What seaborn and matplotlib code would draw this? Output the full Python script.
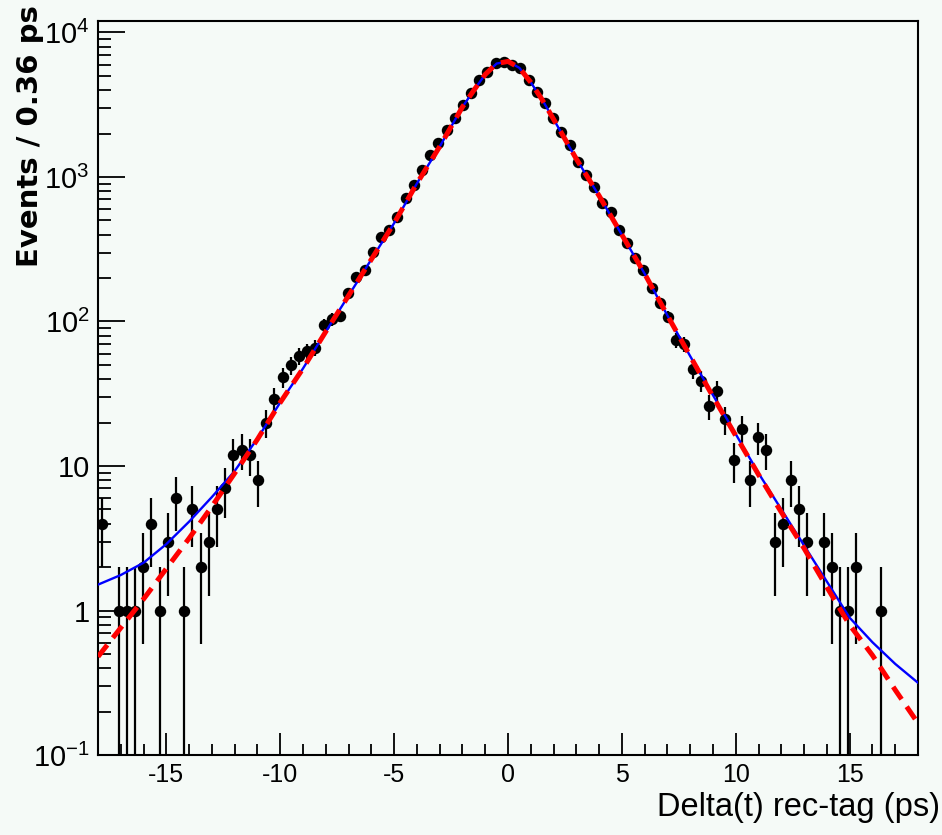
import numpy as np
import pandas as pd
import matplotlib
matplotlib.use("Agg")
import matplotlib.pyplot as plt
import seaborn as sns
from matplotlib.ticker import FixedLocator, MultipleLocator, NullFormatter, LogLocator

# ---------------- data ----------------
bin_width = 0.36
x_min, x_max = -18.0, 18.0

counts = [
    4, 0, 1, 1, 1, 2, 4, 1, 3, 6,
    1, 5, 2, 3, 5, 7, 12, 13, 12, 8,
    20, 29, 41, 50, 58, 62, 66, 95, 104, 110,
    157, 204, 227, 304, 386, 430, 531, 711, 881, 1117,
    1419, 1710, 2113, 2546, 3148, 3793, 4690, 5360, 6110, 6280,
    5960, 5650, 4690, 3890, 3240, 2550, 2055, 1663, 1276, 1033,
    857, 658, 576, 430, 347, 274, 227, 170, 134, 108,
    74, 70, 47, 39, 26, 33, 21, 11, 18, 8,
    16, 13, 3, 4, 8, 5, 3, 0, 3, 2,
    1, 1, 2, 0, 0, 1, 0, 0, 0, 0,
]

curve_x = [-18, -17, -16, -15, -14, -13, -12, -11, -10, -9, -8, -7, -6, -5, -4, -3,
           -2, -1.5, -1, -0.5, 0, 0.5, 1, 1.5, 2,
           3, 4, 5, 6, 7, 8, 9, 10, 11, 12, 13, 14, 15, 16, 17, 18]

blue_fit = [1.51, 1.76, 2.14, 2.88, 4.12, 6.10, 9.23, 15.5, 27.5, 47.3, 85.1, 151, 269, 479, 902, 1622,
            3055, 3981, 5129, 6095, 6310, 5689, 4519, 3428, 2512,
            1334, 741, 398, 214, 110, 57.5, 30.9, 16.6, 8.91, 5.01, 2.82, 1.585, 0.891, 0.603, 0.427, 0.316]

red_fit = [0.479, 0.759, 1.20, 1.95, 3.16, 5.25, 8.91, 15.3, 27.5, 47.3, 85.1, 151, 269, 479, 902, 1622,
           3055, 3981, 5129, 6095, 6310, 5689, 4519, 3428, 2512,
           1334, 741, 398, 214, 110, 57.5, 30.2, 16.2, 8.71, 4.79, 2.69, 1.45, 0.794, 0.490, 0.282, 0.166]

x_tick_values = [-15, -10, -5, 0, 5, 10, 15]
x_tick_labels = ["-15", "-10", "-5", "0", "5", "10", "15"]
y_tick_values = [0.1, 1, 10, 100, 1000, 10000]
y_tick_labels = [r"$\mathregular{10^{-1}}$", "1", "10", r"$\mathregular{10^{2}}$",
                 r"$\mathregular{10^{3}}$", r"$\mathregular{10^{4}}$"]

x_title = "Delta(t) rec-tag (ps)"
y_title = "Events / 0.36 ps"

# ---------------- figure ----------------
sns.set_style("white")
plt.rcParams["font.family"] = ["Liberation Sans", "DejaVu Sans"]
plt.rcParams["mathtext.default"] = "regular"
for key in ["text.color", "axes.labelcolor", "xtick.color", "ytick.color", "axes.edgecolor"]:
    plt.rcParams[key] = "black"

bg = "#f5faf7"
fig = plt.figure(figsize=(9.42, 8.35), dpi=100, facecolor=bg)
ax = fig.add_axes([98 / 942, 80 / 835, 820 / 942, 734 / 835])
ax.set_facecolor(bg)
ax.set_yscale("log")

counts_arr = np.array(counts, dtype=float)
centers = x_min + bin_width * (np.arange(len(counts)) + 0.5)
df = pd.DataFrame({"x": centers, "n": counts_arr})
df = df[df["n"] > 0].copy()
err = np.sqrt(df["n"].values)
lo = df["n"].values - err
lo[lo <= 0] = 1e-3
hi = df["n"].values + err

# error bars
ax.vlines(df["x"].values, lo, hi, color="black", linewidth=1.6, zorder=2)
# points
sns.scatterplot(data=df, x="x", y="n", ax=ax, color="black", s=68,
                edgecolor="black", linewidth=0, marker="o", zorder=3, legend=False)

# fits
sns.lineplot(x=curve_x, y=blue_fit, ax=ax, color="#0000ff", linewidth=1.7,
             zorder=4, sort=False, estimator=None)
sns.lineplot(x=curve_x, y=red_fit, ax=ax, color="#ff0000", linewidth=3.6,
             zorder=5, sort=False, estimator=None)
ax.lines[-1].set_dashes([3, 1.8])

ax.set_xlim(x_min, x_max)
ax.set_ylim(0.1, 10 ** (-1 + 734 / 144.5))

# ticks
ax.xaxis.set_major_locator(FixedLocator(x_tick_values))
ax.set_xticklabels(x_tick_labels, fontsize=18)
ax.xaxis.set_minor_locator(MultipleLocator(1))
ax.yaxis.set_major_locator(FixedLocator(y_tick_values))
ax.set_yticklabels(y_tick_labels, fontsize=21)
ax.yaxis.set_minor_locator(LogLocator(base=10, subs=np.arange(2, 10), numticks=20))
ax.yaxis.set_minor_formatter(NullFormatter())

ax.tick_params(axis="x", which="major", direction="in", length=16, width=1.3,
               pad=6, bottom=True, top=False)
ax.tick_params(axis="x", which="minor", direction="in", length=8, width=1.3,
               bottom=True, top=False)
ax.tick_params(axis="y", which="major", direction="in", length=19.5, width=1.3,
               pad=6, left=True, right=False)
ax.tick_params(axis="y", which="minor", direction="in", length=9.5, width=1.3,
               left=True, right=False)

for s in ax.spines.values():
    s.set_color("black")
    s.set_linewidth(1.5)

ax.set_xlabel(x_title, fontsize=23.5, loc="right")
ax.xaxis.set_label_coords((940 - 98) / 820, -0.050)
ax.set_ylabel(y_title, fontsize=21, fontweight="bold", loc="top",
              family=["DejaVu Sans"])
ax.yaxis.set_label_coords(-0.066, (755 - 5) / 734)

fig.savefig("out.png", dpi=100, facecolor=bg)
